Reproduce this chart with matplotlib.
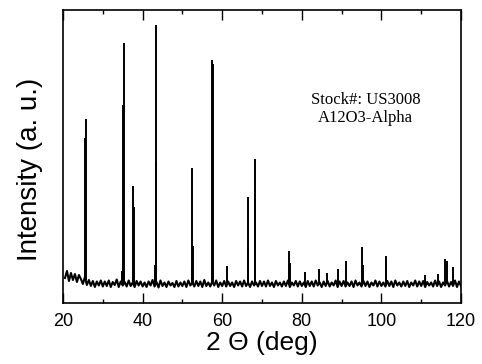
import numpy as np
import matplotlib.pyplot as plt
from matplotlib.ticker import MultipleLocator

# baseline (noisy background), one value every 0.5 deg from 20.5 to 120
bg_start = 20.5
bg_step = 0.5
background = [
    250, 320, 220, 300, 230, 290, 210, 280,
    240, 190, 260, 180, 230, 170, 220, 160, 215, 175, 225, 165,
    215, 170, 225, 160, 210, 180, 235, 160, 215, 175, 210, 165, 225, 170, 205, 160, 220, 175, 215, 165,
    205, 160, 215, 175, 230, 165, 210, 155, 225, 170, 205, 160, 215, 175, 200, 160, 220, 165, 205, 170,
    215, 160, 225, 175, 205, 165, 220, 170, 215, 160, 230, 170, 205, 165, 215, 175, 225, 160, 205, 170,
    220, 165, 215, 170, 205, 160, 220, 175, 215, 165, 225, 170, 205, 160, 215, 175, 205, 165, 220, 170,
    215, 165, 225, 170, 205, 160, 220, 175, 205, 165, 215, 170, 225, 160, 205, 175, 220, 165, 215, 170,
    205, 160, 220, 170, 215, 165, 225, 175, 205, 160, 215, 170, 220, 165, 205, 175, 225, 160, 215, 170,
    220, 165, 205, 170, 215, 160, 225, 175, 205, 165, 220, 170, 215, 160, 205, 175, 225, 165, 215, 170,
    205, 165, 220, 170, 215, 160, 225, 175, 205, 165, 215, 170, 220, 160, 205, 175, 225, 165, 215, 170,
    220, 160, 210, 175, 205, 165, 225, 170, 215, 160, 205, 175, 220, 165, 210, 170, 225, 160, 215, 170,
]

# diffraction peaks: 2-theta position and peak intensity (Ka1 and Ka2 lines)
peak_pos = [25.55, 25.7, 35.1, 35.25, 37.7, 37.85, 43.3, 43.45, 43.0,
            52.5, 52.65, 57.45, 57.6, 61.3, 66.45, 66.6, 68.15, 68.3,
            76.85, 77.0, 80.7, 84.4, 86.4, 89.0, 91.2, 95.2, 95.35,
            101.05, 101.2, 111.0, 114.2, 116.1, 116.55, 117.9, 34.9, 52.3]
peak_int = [1650, 1840, 1980, 2600, 1170, 960, 2780, 1410, 380,
            1350, 570, 2430, 2390, 370, 550, 1060, 1440, 1120,
            520, 400, 310, 340, 300, 340, 420, 560, 380,
            470, 420, 280, 290, 440, 420, 360, 320, 360]

x_ticks = [20, 40, 60, 80, 100, 120]

bg_x = bg_start + bg_step * np.arange(len(background))

fig = plt.figure(figsize=(4.82, 3.64), dpi=100)
ax = fig.add_axes([0.1307, 0.1676, 0.8257, 0.8049])

ax.plot(bg_x, background, color='black', lw=1.5)
base_at_peaks = np.interp(peak_pos, bg_x, background)
ax.vlines(peak_pos, base_at_peaks, peak_int, color='black', lw=1.4)

ax.set_xlim(20, 120)
ax.set_ylim(0, 2930)
ax.set_xticks(x_ticks)
ax.xaxis.set_minor_locator(MultipleLocator(10))
ax.set_yticks([])
ax.tick_params(axis='x', which='both', direction='in', top=True,
               labelsize=13, width=1, pad=7)
ax.tick_params(axis='x', which='major', length=7)
ax.tick_params(axis='x', which='minor', length=3)
for lab in ax.get_xticklabels():
    lab.set_fontfamily('Liberation Sans')
for s in ax.spines.values():
    s.set_linewidth(1.2)

ax.set_xlabel('2 \u0398 (deg)', fontsize=19, family='Liberation Sans', labelpad=1)
ax.set_ylabel('Intensity (a. u.)', fontsize=20, family='Liberation Sans')
ax.yaxis.set_label_coords(-0.05, 0.457)

ax.text(0.76, 0.662, 'Stock#: US3008\nA12O3-Alpha', transform=ax.transAxes,
        ha='center', va='center', fontsize=12, family='Liberation Serif',
        linespacing=1.2)

fig.savefig('out.png', dpi=100)
